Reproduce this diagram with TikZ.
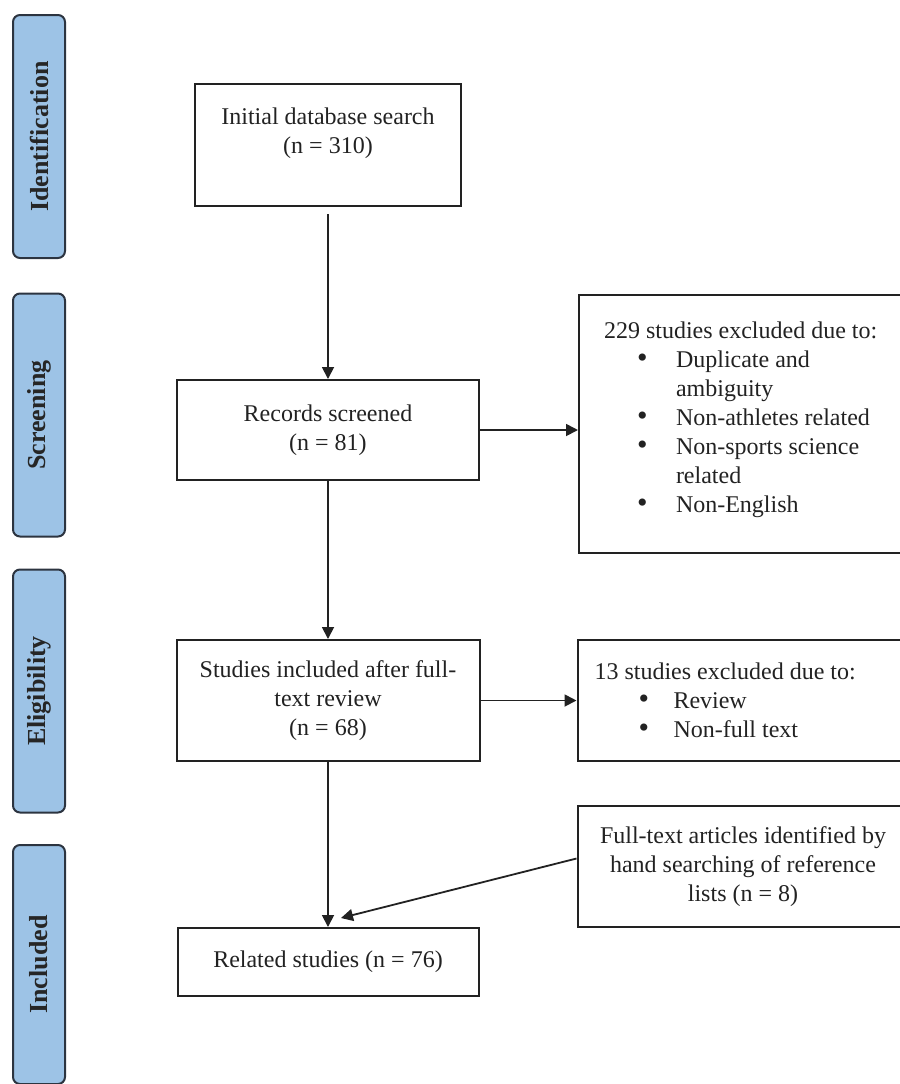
\documentclass[tikz,border=0pt]{standalone}
\usepackage{fontspec}
\setmainfont{Liberation Serif}
\usetikzlibrary{positioning,arrows.meta}
\definecolor{phasefill}{RGB}{157,195,230}
\definecolor{phaseline}{RGB}{44,52,64}
\definecolor{inkgray}{RGB}{34,34,34}
\newcommand{\bitem}[2]{\makebox[#2][l]{\hspace{#1}\fontsize{15}{14.5}\selectfont\textbullet}}
\newcommand{\plainsp}{\spaceskip=\fontdimen2\font\relax\xspaceskip=\fontdimen2\font\relax}

\begin{document}
\begin{tikzpicture}[
                    x=0.5pt, y=-0.5pt,
                    >={Triangle[length=6pt,width=6pt]},
                    font=\fontsize{12}{14.5}\selectfont,
                    box/.style={draw=inkgray, line width=1pt, text=inkgray, align=center, inner sep=0pt},
                    phase/.style={draw=phaseline, fill=phasefill, line width=1pt, rounded corners=3.5pt,
                        rotate=90, minimum width=121.5pt, minimum height=26pt, inner sep=0pt,
                        text=black!85, font=\fontsize{13}{15}\selectfont\bfseries},
                    link/.style={->, line width=0.9pt, draw=inkgray}
                ]
                \useasboundingbox (0,0) rectangle (900,1084);
                \clip (0,0) rectangle (900,1084);

                \node[phase] (ident) at (39,136.5) {Identification};
                \node[phase] (screen) at (39,415) {Screening};
                \node[phase] (elig) at (39,691) {Eligibility};
                \node[phase, minimum width=119.5pt] (incl) at (39,964.5) {Included};

                \node[box, minimum width=133pt, minimum height=61pt] (init) at (328,145)
                    {Initial database search\\(n = 310)\\\mbox{}};
                \node[box, minimum width=151pt, minimum height=50pt, below=86pt of init] (rec)
                    {Records screened\\(n = 81)};
                \node[box, minimum width=151.5pt, minimum height=60.5pt, below=79pt of rec] (stud)
                    {Studies included after full-\\text review\\(n = 68)};
                \node[box, minimum width=150.5pt, minimum height=34pt, below=82.5pt of stud] (rel)
                    {Related studies (n = 76)};

                \node[box, align=left, text width=140pt, inner xsep=12.5pt, minimum height=129pt,
                      right=49pt of rec, yshift=3pt] (excl1)
                    {\plainsp 229 studies excluded due to:\\
                     \bitem{16.5pt}{36pt}Duplicate and\\
                     \hspace*{36pt}ambiguity\\
                     \bitem{16.5pt}{36pt}Non-athletes related\\
                     \bitem{16.5pt}{36pt}Non-sports science\\
                     \hspace*{36pt}related\\
                     \bitem{16.5pt}{36pt}Non-English\\[-8pt]\mbox{}};
                \node[box, align=left, text width=148.5pt, inner xsep=8.5pt, minimum height=60.5pt,
                      right=48pt of stud] (excl2)
                    {\plainsp 13 studies excluded due to:\\
                     \bitem{22pt}{39.5pt}Review\\
                     \bitem{22pt}{39.5pt}Non-full text};
                \node[box, text width=165.5pt, minimum height=60.5pt, below=21.5pt of excl2] (hand)
                    {\plainsp Full-text articles identified by\\hand searching of reference\\lists (n = 8)};

                \coordinate[above right=4.5pt and 6.5pt of rel.north] (meet);

                \draw[link, shorten <=3.5pt] (init) -- (rec);
                \draw[link] (rec) -- (stud);
                \draw[link] (stud) -- (rel);
                \draw[link] (rec.east) -- (rec.east -| excl1.west);
                \draw[link] (stud.east) -- (stud.east -| excl2.west);
                \draw[link] ([yshift=4pt]hand.west) -- (meet);
            \end{tikzpicture}
\end{document}
